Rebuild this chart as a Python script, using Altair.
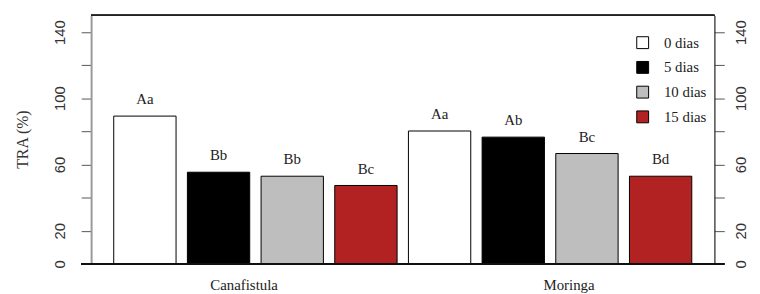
import altair as alt
import pandas as pd

groups = ["Canafistula"] * 4 + ["Moringa"] * 4
days = ["0 dias", "5 dias", "10 dias", "15 dias"] * 2
values = [89.2, 55.3, 52.9, 47.3, 80.2, 76.5, 66.6, 52.9]
letters = ["Aa", "Bb", "Bb", "Bc", "Aa", "Ab", "Bc", "Bd"]
positions = [1, 2, 3, 4, 5, 6, 7, 8]
day_order = ["0 dias", "5 dias", "10 dias", "15 dias"]
day_colors = ["#ffffff", "#000000", "#bebebe", "#b22222"]
group_label_pos = [2.34, 6.75]
group_label_txt = ["Canafistula", "Moringa"]
y_ticks = [0, 20, 40, 60, 80, 100, 120, 140]
y_shown = [0, 20, 60, 100, 140]

half = 0.423
df = pd.DataFrame({
    "group": groups, "day": days, "value": values, "letter": letters,
    "pos": positions,
})
df["x0"] = df["pos"] - half
df["x1"] = df["pos"] + half

xscale = alt.Scale(domain=[0.27, 8.73], nice=False, zero=False)
yscale = alt.Scale(domain=[0, 150], nice=False)

label_expr_y = "indexof(" + str(y_shown) + ", datum.value) >= 0 ? datum.label : ''"
label_expr_x = ("datum.value < 4.5 ? '" + group_label_txt[0] + "' : '" + group_label_txt[1] + "'")

x_axis = alt.Axis(values=group_label_pos, labelExpr=label_expr_x,
                  domain=False, ticks=False, grid=False,
                  labelFont="Liberation Serif", labelFontSize=15,
                  labelColor="#222", labelPadding=14, labelBaseline="top")

bars = alt.Chart(df).mark_bar(stroke="black", strokeWidth=1).encode(
    x=alt.X("x0:Q", scale=xscale, title=None, axis=x_axis),
    x2="x1:Q",
    y=alt.Y("value:Q", scale=yscale,
            axis=alt.Axis(values=y_ticks, labelExpr=label_expr_y, grid=False,
                          tickSize=10, tickColor="#555", domainColor="#999",
                          domainWidth=2, labelAngle=-90, labelAlign="center",
                          labelBaseline="bottom", labelPadding=14,
                          labelFont="Liberation Sans", labelFontSize=15,
                          labelColor="#333", title="TRA (%)",
                          titleFont="Liberation Serif", titleFontSize=16,
                          titleFontWeight="normal", titleColor="#333",
                          titleAngle=-90, titleX=-69, titleY=125,
                          titleAlign="center", titleBaseline="middle")),
    y2=alt.datum(0),
    fill=alt.Fill("day:N", scale=alt.Scale(domain=day_order, range=day_colors),
                  legend=alt.Legend(title=None, orient="none", legendX=550,
                                    legendY=20, symbolType="square",
                                    symbolSize=144, symbolStrokeColor="black",
                                    symbolStrokeWidth=1, labelFont="Liberation Serif",
                                    labelFontSize=15, labelColor="#222",
                                    rowPadding=8, labelOffset=14)),
)

text = alt.Chart(df).mark_text(font="Liberation Serif", fontSize=15, color="#222",
                               baseline="alphabetic", dy=-12).encode(
    x=alt.X("pos:Q", scale=xscale, title=None, axis=x_axis),
    y=alt.Y("value:Q", scale=yscale,
            axis=alt.Axis(orient="right", values=y_ticks, labelExpr=label_expr_y,
                          grid=False, tickSize=10, tickColor="#555",
                          domainColor="#222", domainWidth=1.2, labelAngle=-90,
                          labelAlign="center", labelBaseline="middle",
                          labelPadding=16, labelFont="Liberation Sans",
                          labelFontSize=15, labelColor="#333", title=None)),
    text="letter:N",
)

top_rule = alt.Chart(df).mark_rule(color="#222", strokeWidth=1.2).encode(
    x=alt.value(0), x2=alt.value(630), y=alt.value(0))
bottom_rule = alt.Chart(df).mark_rule(color="#111", strokeWidth=1.2).encode(
    x=alt.value(-10), x2=alt.value(640), y=alt.value(251))

chart = alt.layer(bars, text, top_rule, bottom_rule).resolve_axis(
    y="independent").properties(
    width=630, height=251,
    autosize=alt.AutoSizeParams(type="none"),
    padding={"left": 84, "top": 6, "right": 38, "bottom": 28},
).configure_view(stroke=None)

chart.save("out.html", embed_options={"renderer": "svg", "actions": False})
